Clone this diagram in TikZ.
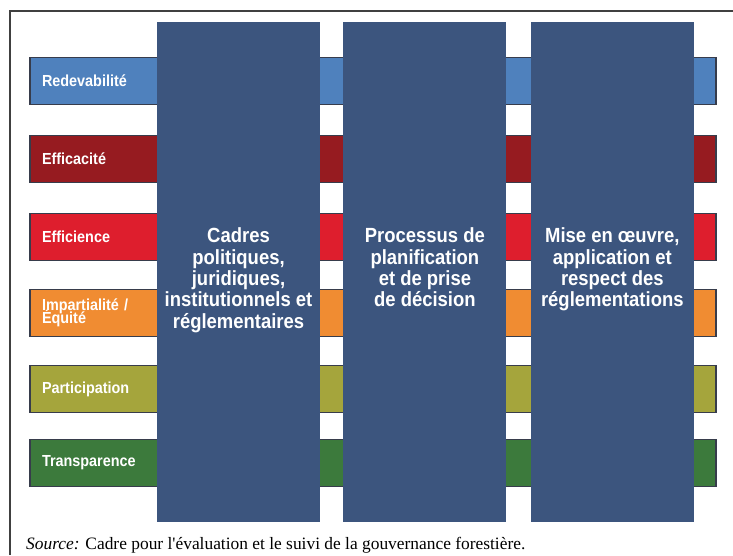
\documentclass[tikz,border=0pt]{standalone}
\usepackage{fontspec}
\setmainfont{Liberation Serif}[Ligatures=TeXOff]
\newfontfamily\condsans[FakeStretch=0.9]{Liberation Sans}
\usetikzlibrary{positioning}

\definecolor{pillarblue}{RGB}{60,85,126}
\definecolor{barline}{RGB}{55,60,75}
\definecolor{redevblue}{RGB}{79,129,189}
\definecolor{efficared}{RGB}{150,27,32}
\definecolor{efficired}{RGB}{222,30,45}
\definecolor{equiorange}{RGB}{240,140,50}
\definecolor{partolive}{RGB}{165,165,60}
\definecolor{transgreen}{RGB}{60,122,60}

\newcommand\barfont{\condsans\bfseries\fontsize{16}{13}\selectfont\lineskiplimit=-20pt\relax}

\tikzset{
	bar/.style={draw=barline, line width=1.8pt, minimum width=686pt, minimum height=47pt,
		text width=662pt, inner xsep=12pt, inner ysep=0pt, align=left, text=white,
		font=\barfont},
	pillar/.style={fill=pillarblue, minimum width=163pt, minimum height=500pt, inner sep=0pt},
	pillartext/.style={text=white, align=center, inner sep=0pt,
		font=\condsans\bfseries\fontsize{20.5}{21.3}\selectfont}
}

\begin{document}
\begin{tikzpicture}[x=1pt,y=-1pt]
		\useasboundingbox (0,0) rectangle (733,555);
		\draw [line width=1.2pt, black!75] (10,555) -- (10,11) -- (733,11);
		% principles, behind the pillars
		\foreach \nm/\col/\yy/\lbl in {redev/redevblue/81/Redevabilité, effica/efficared/159/Efficacité,
			effici/efficired/237/Efficience, equite/equiorange/313/{Impartialité /\\Équité},
			partic/partolive/389/Participation, transp/transgreen/463/Transparence}
			\node [bar, fill=\col] (\nm) at (373,\yy) {\lbl};
		% pillars
		\node [pillar] (cadres) at (238.5,272) {};
		\node [pillar, right=23pt of cadres] (processus) {};
		\node [pillar, right=24pt of processus] (miseoeuvre) {};
		\node [pillartext, below=206pt of cadres.north] (cadres-txt) {Cadres\\politiques,\\juridiques,\\institutionnels et\\réglementaires};
		\node [pillartext, below=206pt of processus.north] (processus-txt) {Processus de\\planification\\et de prise\\de décision};
		\node [pillartext, below=206pt of miseoeuvre.north] (miseoeuvre-txt) {Mise en œuvre,\\application et\\respect des\\réglementations};
		\node [anchor=base west, inner sep=0pt, font=\fontsize{17.4}{20}\selectfont] (source) at (26,549) {\textit{Source:} Cadre pour l'évaluation et le suivi de la gouvernance forestière.};
	\end{tikzpicture}
\end{document}
